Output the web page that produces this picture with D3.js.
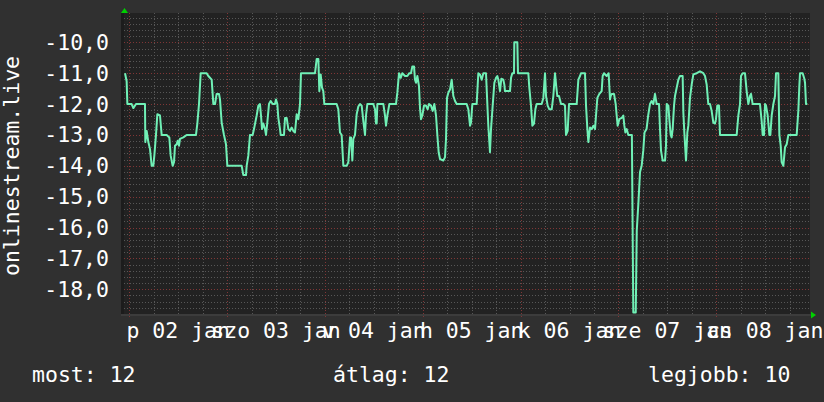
<!DOCTYPE html>
<html><head><meta charset="utf-8">
<script src="https://cdn.jsdelivr.net/npm/d3@7"></script>
<style>
html,body{margin:0;padding:0;background:#303030;}
svg{display:block;}
text{font-family:"DejaVu Sans Mono",monospace;font-size:21.5px;fill:#ffffff;}
</style></head>
<body>
<script>
// ---- data (hours since 2015-01-02 00:00, value) ----
const series = [[-1.05,-11.0],[-0.65,-11.26],[-0.48,-12.0],[0.58,-12.0],[0.99,-12.13],[1.64,-12.0],[3.85,-12.0],[3.93,-13.23],[4.26,-12.87],[4.67,-13.23],[5.08,-13.46],[5.49,-14.0],[5.89,-14.0],[6.14,-13.67],[6.55,-13.0],[6.88,-12.33],[7.53,-12.37],[7.94,-13.0],[9.17,-13.0],[9.82,-13.08],[10.15,-13.67],[10.64,-14.0],[10.97,-13.88],[11.21,-13.35],[11.62,-13.3],[11.87,-13.19],[12.19,-13.35],[12.44,-13.13],[13.26,-13.08],[14.07,-13.0],[16.36,-13.0],[16.69,-12.63],[17.1,-12.0],[17.51,-11.0],[18.98,-11.0],[19.39,-11.09],[20.21,-11.21],[20.62,-12.0],[21.03,-12.0],[21.43,-11.67],[22.01,-11.67],[22.25,-11.85],[22.66,-12.6],[23.23,-13.0],[23.72,-13.3],[24.05,-14.0],[27.57,-14.0],[27.98,-14.3],[28.63,-14.3],[28.79,-14.0],[29.2,-13.67],[29.61,-13.0],[30.26,-13.0],[30.59,-12.81],[31.25,-12.37],[31.66,-12.05],[32.06,-12.0],[32.31,-12.37],[32.56,-12.81],[32.88,-12.63],[33.29,-12.81],[33.54,-13.0],[33.86,-12.6],[34.27,-12.0],[34.68,-11.9],[35.17,-12.0],[35.74,-12.0],[35.99,-11.85],[36.32,-12.0],[36.56,-12.45],[36.97,-12.81],[37.14,-13.0],[37.95,-13.0],[38.2,-12.45],[38.61,-12.45],[39.02,-12.81],[39.43,-12.87],[39.83,-12.76],[40.24,-12.87],[40.65,-12.92],[41.06,-12.33],[41.47,-12.49],[41.88,-12.0],[42.12,-11.0],[45.56,-11.0],[45.97,-10.54],[46.38,-10.54],[46.62,-11.58],[46.95,-11.04],[47.28,-11.47],[47.6,-11.58],[47.85,-12.0],[50.87,-12.0],[51.28,-12.17],[51.69,-12.92],[52.1,-13.0],[52.51,-14.0],[53.33,-14.0],[53.74,-13.88],[54.15,-13.08],[54.39,-13.08],[54.72,-13.83],[54.96,-13.13],[55.37,-13.0],[55.78,-12.33],[56.19,-12.08],[56.6,-12.0],[57.01,-12.05],[57.42,-12.55],[57.83,-13.0],[58.07,-12.37],[58.4,-12.0],[59.87,-12.0],[60.28,-12.17],[60.53,-12.63],[60.69,-12.63],[60.86,-12.0],[62.33,-12.0],[62.73,-12.37],[62.98,-12.7],[63.31,-12.37],[63.8,-12.0],[65.43,-12.0],[65.76,-11.63],[66.17,-11.0],[66.58,-11.15],[66.98,-11.0],[67.64,-11.09],[68.21,-11.09],[68.7,-11.0],[69.11,-11.0],[69.44,-10.78],[69.85,-10.78],[70.09,-11.21],[70.34,-11.31],[70.67,-11.09],[71.07,-11.42],[71.32,-12.13],[71.56,-12.49],[71.89,-12.37],[72.3,-12.05],[72.79,-12.05],[73.2,-12.17],[73.53,-12.0],[74.02,-12.05],[74.43,-12.22],[74.84,-12.0],[75.25,-12.37],[75.57,-13.0],[75.9,-13.56],[76.23,-13.78],[77.04,-13.83],[77.46,-13.72],[77.7,-13.13],[77.94,-11.8],[78.27,-11.63],[78.68,-11.53],[79.09,-11.21],[79.5,-11.74],[79.91,-11.9],[80.32,-12.0],[82.77,-12.0],[83.18,-12.17],[83.59,-12.7],[83.83,-12.6],[84.16,-12.0],[85.22,-12.0],[85.63,-11.0],[86.04,-11.04],[86.45,-11.21],[86.86,-11.0],[87.51,-11.0],[87.84,-12.0],[88.08,-12.7],[88.49,-13.56],[88.74,-12.81],[89.15,-12.05],[89.56,-11.31],[89.97,-11.15],[90.29,-11.09],[90.54,-11.21],[90.95,-11.58],[91.27,-11.18],[91.76,-11.21],[92.01,-11.37],[92.17,-11.58],[93.4,-11.58],[93.65,-11.15],[93.97,-11.0],[94.38,-11.0],[94.46,-10.0],[95.2,-10.0],[95.36,-11.0],[97.9,-11.0],[98.14,-11.47],[98.55,-12.05],[98.88,-12.7],[99.29,-12.63],[99.62,-12.17],[99.94,-12.0],[101.17,-12.0],[101.58,-11.8],[101.99,-11.0],[102.24,-11.74],[102.64,-12.05],[103.05,-12.17],[103.63,-12.17],[104.03,-11.74],[104.44,-11.0],[104.77,-11.47],[105.01,-11.74],[105.42,-11.74],[105.91,-12.0],[106.48,-12.0],[106.89,-12.05],[107.14,-13.0],[107.55,-12.87],[107.88,-12.0],[109.76,-12.0],[110.17,-11.21],[110.58,-11.09],[110.82,-11.0],[111.8,-11.0],[112.05,-12.05],[112.38,-12.81],[112.62,-13.23],[113.03,-12.76],[113.44,-12.81],[113.85,-12.7],[114.26,-12.81],[114.5,-12.37],[114.83,-11.8],[115.32,-11.67],[115.89,-11.58],[116.13,-11.09],[116.46,-11.0],[117.12,-11.09],[117.6,-11.0],[117.93,-11.85],[118.1,-11.74],[118.34,-11.67],[118.92,-11.67],[119.33,-12.0],[119.57,-12.37],[119.81,-12.7],[120.22,-12.49],[120.79,-12.45],[121.2,-12.37],[121.45,-12.7],[121.7,-12.92],[122.03,-12.81],[122.43,-13.0],[123.3,-13.0],[123.65,-18.75],[124.25,-18.75],[124.5,-16.1],[124.9,-15.2],[125.3,-14.2],[125.7,-14.0],[126.1,-13.5],[126.4,-12.92],[126.9,-12.81],[127.3,-12.37],[127.74,-12.0],[128.15,-11.9],[128.56,-12.0],[128.97,-11.67],[129.38,-12.0],[129.96,-12.0],[130.2,-12.81],[130.45,-13.51],[130.85,-13.83],[131.43,-13.83],[131.67,-13.35],[131.84,-12.0],[132.25,-12.05],[132.49,-12.49],[132.82,-13.0],[133.06,-13.08],[133.31,-12.81],[133.64,-12.05],[133.88,-11.74],[134.29,-11.47],[134.7,-11.21],[135.11,-11.09],[135.76,-11.09],[135.93,-12.28],[136.17,-12.92],[136.58,-13.83],[136.91,-12.92],[137.15,-12.7],[137.56,-11.8],[137.97,-11.37],[138.38,-11.04],[139.2,-11.0],[140.01,-10.94],[140.83,-11.0],[141.24,-11.09],[141.65,-11.37],[142.05,-12.0],[142.46,-12.0],[142.87,-12.22],[143.28,-12.6],[143.69,-12.63],[143.93,-12.49],[144.26,-12.05],[144.67,-12.05],[144.92,-13.0],[149.01,-13.0],[149.42,-12.37],[149.83,-12.0],[150.07,-11.09],[150.48,-11.0],[151.05,-11.0],[151.46,-11.58],[151.87,-12.0],[152.28,-11.74],[152.53,-11.67],[152.93,-12.0],[154.73,-12.0],[155.14,-12.55],[155.39,-13.0],[155.72,-13.0],[155.96,-12.0],[156.21,-12.05],[156.62,-12.37],[157.03,-13.0],[157.27,-13.0],[157.6,-12.37],[158.01,-12.0],[158.42,-11.74],[158.66,-11.0],[159.23,-11.0],[159.48,-13.0],[159.81,-13.35],[160.05,-13.88],[160.46,-14.0],[160.87,-13.4],[161.28,-13.3],[161.69,-13.0],[163.73,-13.0],[164.14,-12.22],[164.38,-11.42],[164.55,-11.0],[165.2,-11.0],[165.61,-11.18],[165.78,-11.31],[166.02,-12.0],[166.35,-12.0]];

const yTicks = [-10,-11,-12,-13,-14,-15,-16,-17,-18];
const dayTickHours = [12,36,60,84,108,132,156];
const dayTickLabels = ["p 02 jan","szo 03 jan","v 04 jan","h 05 jan","k 06 jan","sze 07 jan","cs 08 jan"];
const yTitle = "onlinestream.live";
const legendLabels = ["most:","átlag:","legjobb:"];
const legendValues = ["12","12","10"];

// ---- layout ----
const W = 824, H = 402;
const plot = {left:124, right:810, top:13, bottom:314};
const x = d3.scaleLinear().domain([-1.3, 167.0]).range([plot.left, plot.right]);
const y = d3.scaleLinear().domain([-18.8, -9.05]).range([plot.bottom, plot.top]);

const svg = d3.select("body").append("svg").attr("width", W).attr("height", H);
svg.append("rect").attr("width", W).attr("height", H).attr("fill", "#303030");
svg.append("rect").attr("x", plot.left).attr("y", plot.top)
   .attr("width", plot.right - plot.left).attr("height", plot.bottom - plot.top)
   .attr("fill", "#222222");

const grid = svg.append("g").attr("shape-rendering", "crispEdges");
// minor horizontal grid (every 0.2)
const minorY = d3.range(-93, -45).map(i => i / 5).filter(v => Math.abs(v - Math.round(v)) > 1e-6);
grid.selectAll(".hm").data(minorY).join("line")
  .attr("x1", plot.left).attr("x2", plot.right)
  .attr("y1", d => Math.round(y(d)) + 0.5).attr("y2", d => Math.round(y(d)) + 0.5)
  .attr("stroke", "#575757").attr("stroke-dasharray", "1,2");
// minor vertical grid (every 6h)
const minorX = d3.range(0, 167, 6).filter(h => h % 24 !== 0);
grid.selectAll(".vm").data(minorX).join("line")
  .attr("y1", plot.top).attr("y2", plot.bottom + 2)
  .attr("x1", d => Math.round(x(d)) + 0.5).attr("x2", d => Math.round(x(d)) + 0.5)
  .attr("stroke", "#575757").attr("stroke-dasharray", "1,2");
// major horizontal grid (integers)
grid.selectAll(".hM").data(yTicks).join("line")
  .attr("x1", plot.left).attr("x2", plot.right)
  .attr("y1", d => Math.round(y(d)) + 0.5).attr("y2", d => Math.round(y(d)) + 0.5)
  .attr("stroke", "#803636").attr("stroke-dasharray", "1,2");
// major vertical grid (midnights)
const majorX = d3.range(0, 167, 24);
grid.selectAll(".vM").data(majorX).join("line")
  .attr("y1", plot.top).attr("y2", plot.bottom + 3)
  .attr("x1", d => Math.round(x(d)) + 0.5).attr("x2", d => Math.round(x(d)) + 0.5)
  .attr("stroke", "#803636").attr("stroke-dasharray", "1,2");

// axis lines
svg.append("line").attr("x1", plot.left - 1.5).attr("x2", plot.left - 1.5)
  .attr("y1", plot.top).attr("y2", plot.bottom + 2).attr("stroke", "#1c1c1c").attr("stroke-width", 3);
svg.append("line").attr("x1", plot.left - 3).attr("x2", plot.right + 2)
  .attr("y1", plot.bottom + 1).attr("y2", plot.bottom + 1).attr("stroke", "#3c3c3c").attr("stroke-width", 2);

// arrows
svg.append("path").attr("d", `M${plot.left - 3},${plot.top} L${plot.left + 0.5},${plot.top - 5} L${plot.left + 4},${plot.top} Z`).attr("fill", "#00d000");
svg.append("path").attr("d", `M${plot.right + 1},${plot.bottom - 2.5} L${plot.right + 6},${plot.bottom + 1} L${plot.right + 1},${plot.bottom + 4.5} Z`).attr("fill", "#00d000");

// line
const line = d3.line().x(d => x(d[0])).y(d => y(d[1]));
svg.append("path").datum(series).attr("d", line)
  .attr("fill", "none").attr("stroke", "#70f0b6").attr("stroke-width", 2)
  .attr("stroke-linejoin", "round");

// y axis labels
const loc = d3.formatLocale({decimal: ",", thousands: " ", grouping: [3], currency: ["", ""], minus: "-"});
const fmt = loc.format(".1f");
svg.selectAll(".yl").data(yTicks).join("text")
  .attr("x", 109).attr("y", d => y(d) + 7.5)
  .attr("text-anchor", "end").text(d => fmt(d));

// y title
svg.append("text").attr("transform", "translate(19,166) rotate(-90)")
  .attr("text-anchor", "middle").text(yTitle);

// x labels
svg.selectAll(".xl").data(dayTickHours).join("text")
  .attr("x", d => x(d)).attr("y", 338).attr("text-anchor", "middle")
  .text((d, i) => dayTickLabels[i]);

// legend
const legendX = [32, 333, 648];
svg.selectAll(".lg").data(legendLabels).join("text")
  .attr("x", (d, i) => legendX[i]).attr("y", 381.5)
  .attr("xml:space", "preserve")
  .text((d, i) => d + " " + legendValues[i]);
</script>
</body></html>
